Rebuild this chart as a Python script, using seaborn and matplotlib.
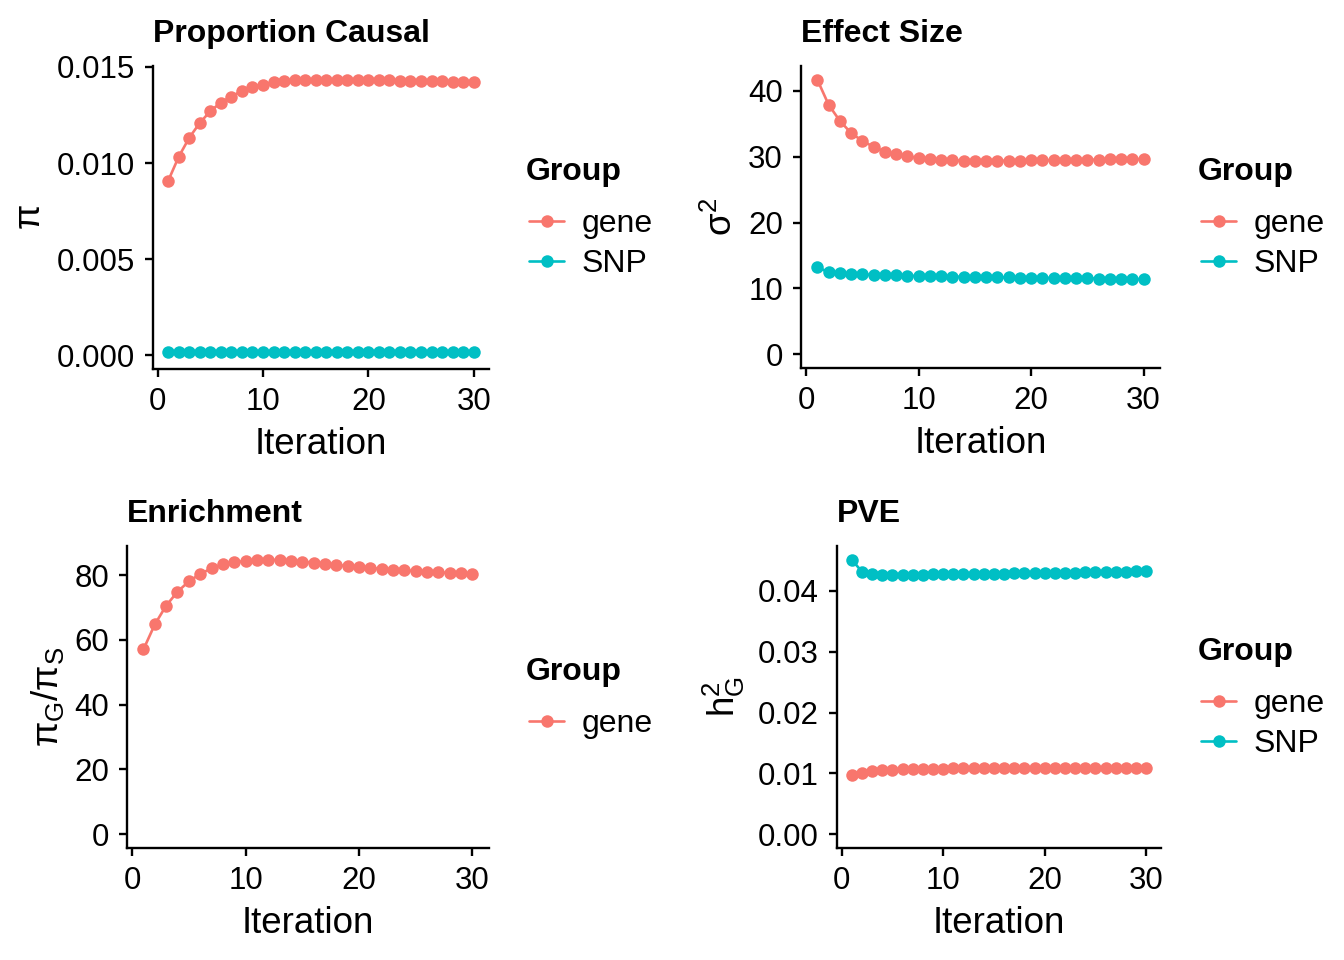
import pandas as pd
import seaborn as sns
import matplotlib.pyplot as plt
from matplotlib.lines import Line2D
from matplotlib.ticker import FormatStrFormatter

# values, iterations 1..30
iteration = list(range(1, 31))

pi_gene = [0.00908, 0.01033, 0.01132, 0.01209, 0.01270, 0.01315, 0.01346, 0.01376,
           0.01395, 0.01407, 0.01420, 0.01426, 0.01430, 0.01432, 0.01433, 0.01433,
           0.01433, 0.01433, 0.01432, 0.01432, 0.01431, 0.01430, 0.01429, 0.01428,
           0.01427, 0.01426, 0.01425, 0.01423, 0.01422, 0.01421]
pi_snp = [0.00019] * 30

sigma_gene = [41.7, 37.9, 35.45, 33.6, 32.4, 31.5, 30.76, 30.35, 30.05, 29.8,
              29.6, 29.5, 29.45, 29.4, 29.4, 29.4, 29.4, 29.4, 29.42, 29.44,
              29.46, 29.48, 29.5, 29.52, 29.54, 29.56, 29.58, 29.6, 29.62, 29.65]
sigma_snp = [13.18, 12.5, 12.3, 12.2, 12.12, 12.05, 12.0, 11.96, 11.92, 11.88,
             11.85, 11.82, 11.79, 11.76, 11.73, 11.7, 11.68, 11.66, 11.64, 11.62,
             11.6, 11.58, 11.56, 11.54, 11.52, 11.5, 11.48, 11.46, 11.43, 11.4]

enrich_gene = [57.1, 64.8, 70.6, 74.9, 78.1, 80.4, 82.1, 83.4, 84.0, 84.4,
               84.7, 84.8, 84.7, 84.5, 84.2, 83.9, 83.6, 83.2, 82.8, 82.5,
               82.2, 82.0, 81.7, 81.5, 81.3, 81.1, 80.9, 80.7, 80.6, 80.4]

pve_gene = [0.00967, 0.0101, 0.01038, 0.0105, 0.01062, 0.01067, 0.01072, 0.01075,
            0.01078, 0.0108, 0.01082, 0.01083, 0.01084, 0.01085, 0.01086, 0.01087,
            0.01087, 0.01088, 0.01088, 0.01089, 0.01089, 0.0109, 0.0109, 0.01091,
            0.01091, 0.01092, 0.01092, 0.01093, 0.01093, 0.01093]
pve_snp = [0.04513, 0.04316, 0.04279, 0.04268, 0.04266, 0.04266, 0.04267, 0.04268,
           0.04270, 0.04272, 0.04274, 0.04276, 0.04278, 0.04280, 0.04282, 0.04285,
           0.04287, 0.04289, 0.04292, 0.04294, 0.04297, 0.04300, 0.04302, 0.04305,
           0.04308, 0.04311, 0.04314, 0.04318, 0.04322, 0.04328]

titles = ["Proportion Causal", "Effect Size", "Enrichment", "PVE"]
ylabels = [r"$\pi$", r"$\sigma^2$", r"$\pi_G/\pi_S$", r"$h_G^2$"]
yticks = [[0, 0.005, 0.010, 0.015], [0, 10, 20, 30, 40], [0, 20, 40, 60, 80], [0, 0.01, 0.02, 0.03, 0.04]]
yfmt = ["%.3f", "%d", "%d", "%.2f"]

palette = {"gene": "#F8766D", "SNP": "#00BFC4"}


def long_df(series):
    frames = []
    for grp, vals in series.items():
        frames.append(pd.DataFrame({"Iteration": iteration, "value": vals, "Group": grp}))
    return pd.concat(frames, ignore_index=True)


panels = [
    long_df({"gene": pi_gene, "SNP": pi_snp}),
    long_df({"gene": sigma_gene, "SNP": sigma_snp}),
    long_df({"gene": enrich_gene}),
    long_df({"gene": pve_gene, "SNP": pve_snp}),
]

sns.set_theme(style="ticks")
plt.rcParams["font.family"] = ["Liberation Sans", "DejaVu Sans"]
plt.rcParams["mathtext.fontset"] = "custom"
plt.rcParams["mathtext.rm"] = "Liberation Sans"
plt.rcParams["mathtext.it"] = "Liberation Sans"
plt.rcParams["mathtext.default"] = "regular"
for k in ["text.color", "axes.labelcolor", "xtick.color", "ytick.color", "axes.edgecolor"]:
    plt.rcParams[k] = "black"

fig = plt.figure(figsize=(13.44, 9.6), dpi=100)

# axes boxes in figure fraction (left, bottom, width, height)
boxes = [
    (0.1138, 0.6156, 0.2500, 0.3156),
    (0.5960, 0.6167, 0.2670, 0.3146),
    (0.0945, 0.1167, 0.2693, 0.3146),
    (0.6228, 0.1167, 0.2410, 0.3146),
]
ylabel_pad = [6, 6, 6, 8]
# legend: title position and centre of the key rows, in pixels from top-left
leg_title = [(526, 172), (1198, 172), (526, 672), (1198, 652)]
leg_keys = [(529, 244), (1201, 244), (529, 724), (1201, 724)]
W, H = 1344, 960

for i, df in enumerate(panels):
    ax = fig.add_axes(boxes[i])
    sns.lineplot(data=df, x="Iteration", y="value", hue="Group", palette=palette,
                 marker="o", markersize=9, markeredgewidth=0, linewidth=1.9,
                 legend=False, ax=ax)
    ymax = df["value"].max()
    ax.set_ylim(-0.05 * ymax, 1.05 * ymax)
    ax.set_xlim(-0.45, 31.45)
    ax.set_xticks([0, 10, 20, 30])
    ax.set_yticks(yticks[i])
    ax.yaxis.set_major_formatter(FormatStrFormatter(yfmt[i]))
    ax.tick_params(labelsize=22.5, length=6, width=1.7, color="black", pad=7)
    for s in ["left", "bottom"]:
        ax.spines[s].set_linewidth(1.7)
    sns.despine(ax=ax)
    ax.set_xlabel("Iteration", fontsize=26.5, labelpad=7)
    ax.set_ylabel(ylabels[i], fontsize=26.5, labelpad=ylabel_pad[i])
    ax.set_title(titles[i], loc="left", fontsize=23, fontweight="bold", pad=17)

    groups = list(df["Group"].unique())
    handles = [Line2D([], [], color=palette[g], marker="o", markersize=9,
                      markeredgewidth=0, linewidth=1.9) for g in groups]
    tx, ty = leg_title[i]
    fig.text(tx / W, 1 - ty / H, "Group", fontsize=23, fontweight="bold",
             ha="left", va="center")
    kx, ky = leg_keys[i]
    ax.legend(handles, groups, loc="center left",
              bbox_to_anchor=(kx / W, 1 - ky / H), bbox_transform=fig.transFigure,
              frameon=False, fontsize=23, borderpad=0, borderaxespad=0,
              handlelength=1.1, handletextpad=0.55, labelspacing=0.32)

fig.savefig("out.png", dpi=100)
